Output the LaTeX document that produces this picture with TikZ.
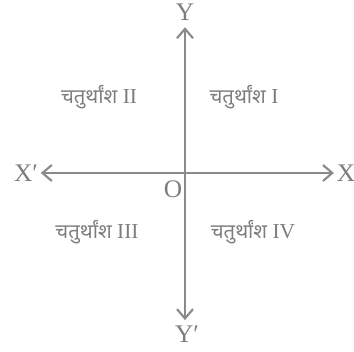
\documentclass[tikz,border=0pt]{standalone}
\usepackage{fontspec}
\setmainfont{Liberation Serif}
\newfontfamily\devfont[Script=Devanagari,Scale=0.95]{Noto Sans}
\usetikzlibrary{arrows.meta}
\definecolor{AxisGray}{RGB}{138,138,138}
\definecolor{TextGray}{RGB}{125,125,125}

\begin{document}
\begin{tikzpicture}[x=0.75pt,y=-0.75pt,>={Straight Barb[length=7pt,width=12pt,line width=1.6pt]}]
        \tikzset{axis/.style={draw=AxisGray,line width=1.9pt},lbl/.style={text=TextGray,inner sep=0pt,font=\fontsize{19}{22}\selectfont},quad/.style={text=TextGray,inner sep=0pt,font=\fontsize{16}{19}\selectfont}}
        \useasboundingbox (0,0) rectangle (354,352);
        \node[lbl] (xneg) at (26,173) {X′};
        \node[lbl] (xpos) at (346,173) {X};
        \node[lbl] (ypos) at (185,12) {Y};
        \node[lbl] (yneg) at (187,334) {Y′};
        \node[lbl] (orig) at (173,189) {O};
        \draw[axis,<->] ([xshift=2pt]xneg.east) -- ([xshift=-2pt]xpos.west);
        \draw[axis,<->] ([yshift=-5pt]ypos.south) -- ([yshift=4pt]yneg.north -| ypos.south);
        \node[quad] (q2) at (99,97) {{\devfont चतुर्थांश} II};
        \node[quad] (q1) at (244,97) {{\devfont चतुर्थांश} I};
        \node[quad] (q3) at (97,232) {{\devfont चतुर्थांश} III};
        \node[quad] (q4) at (253,232) {{\devfont चतुर्थांश} IV};
      \end{tikzpicture}
\end{document}
